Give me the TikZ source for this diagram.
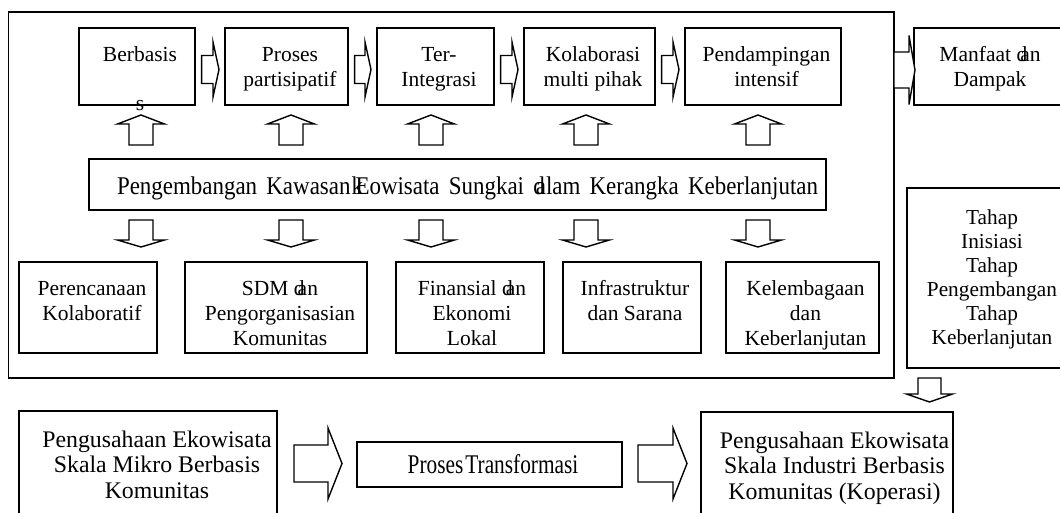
\documentclass[tikz,border=0pt]{standalone}
\usepackage{fontspec}
\setmainfont{Liberation Serif}
\newfontfamily\condfont[FakeStretch=0.79]{Liberation Serif}
\newfontfamily\midfont[FakeStretch=0.9]{Liberation Serif}
\usetikzlibrary{calc}
\newcommand\dn{d\kern-7pt an}
% right block arrow: start, tip, shaft half-width, head half-width, head length
\newcommand\arrR[5]{\draw[barrow] let \p1=#1, \p2=#2 in (\x1,\y1+#3) -- (\x2-#5,\y1+#3) -- (\x2-#5,\y1+#4) -- (\x2,\y1) -- (\x2-#5,\y1-#4) -- (\x2-#5,\y1-#3) -- (\x1,\y1-#3) -- cycle;}
% up block arrow: bottom, apex
\newcommand\arrU[5]{\draw[barrow] let \p1=#1, \p2=#2 in (\x1-#3,\y1) -- (\x1-#3,\y2-#5) -- (\x1-#4,\y2-#5) -- (\x1,\y2) -- (\x1+#4,\y2-#5) -- (\x1+#3,\y2-#5) -- (\x1+#3,\y1) -- cycle;}
% down block arrow: top, tip
\newcommand\arrD[5]{\draw[barrow] let \p1=#1, \p2=#2 in (\x1-#3,\y1) -- (\x1-#3,\y2+#5) -- (\x1-#4,\y2+#5) -- (\x1,\y2) -- (\x1+#4,\y2+#5) -- (\x1+#3,\y2+#5) -- (\x1+#3,\y1) -- cycle;}
\tikzset{
  box/.style={draw, line width=1.4pt, inner sep=0pt, outer sep=0pt},
  frame/.style={draw, line width=1.8pt, inner sep=0pt, outer sep=0pt},
  txt/.style={inner sep=0pt, align=center, anchor=north, font=\fontsize{21.5}{25}\selectfont},
  tahaptxt/.style={inner sep=0pt, align=center, anchor=north, font=\fontsize{21.3}{24}\selectfont},
  bigtxt/.style={inner sep=0pt, align=center, anchor=north, font=\fontsize{23.8}{25.5}\selectfont},
  barrow/.style={draw, line width=1.4pt, fill=white, line join=miter},
}
\begin{document}
\begin{tikzpicture}[x=1pt,y=-1pt]
\useasboundingbox (0,0) rectangle (1060,513);
\fill[white] (0,0) rectangle (1060,513);
\clip (0,0) rectangle (1060,513);

% outer frame
\node[frame, minimum width=885.5pt, minimum height=366pt] (frame) at (451.25,195) {};

% top row
\node[box, minimum width=116pt, minimum height=77pt] (t1) at (137,66.5) {};
\node[box, minimum width=123pt, minimum height=77pt] (t2) at (286.5,66.5) {};
\node[box, minimum width=117pt, minimum height=77pt] (t3) at (435.5,66.5) {};
\node[box, minimum width=131pt, minimum height=77pt] (t4) at (589.5,66.5) {};
\node[box, minimum width=156pt, minimum height=77pt] (t5) at (763,66.5) {};
\node[box, minimum width=148pt, minimum height=77pt] (t6) at (988,66.5) {};

\node[txt] (t1txt) at ([xshift=3pt,yshift=-15.5pt]t1.north) {\strut Berbasis\\[24pt]\strut s};
\node[txt] (t2txt) at ([xshift=3.5pt,yshift=-15.5pt]t2.north) {\strut Proses\\\strut partisipatif};
\node[txt] (t3txt) at ([xshift=3.5pt,yshift=-15.5pt]t3.north) {\strut Ter-\\\strut Integrasi};
\node[txt] (t4txt) at ([xshift=3.5pt,yshift=-15.5pt]t4.north) {\strut Kolaborasi\\\strut multi pihak};
\node[txt] (t5txt) at ([xshift=3.5pt,yshift=-15.5pt]t5.north) {\strut Pendampingan\\\strut intensif};
\node[txt] (t6txt) at ([xshift=2pt,yshift=-15.5pt]t6.north) {\strut Manfaat \dn\\\strut Dampak};

% middle box
\node[box, minimum width=737pt, minimum height=51pt] (mid) at (457.5,184.5) {};
\node[anchor=base, inner sep=0pt, font=\midfont\fontsize{25.5}{28}\selectfont] (midtxt) at ([xshift=10pt,yshift=-10.5pt]mid.center)
  {\makebox[701pt][s]{Pengembangan Kawasan\kern5pt E\kern-18pt k\kern6.5pt owisata Sungkai d\kern-9pt alam Kerangka Keberlanjutan}};

% framed bottom row
\node[box, minimum width=138pt, minimum height=91pt] (f1) at (88,307.5) {};
\node[box, minimum width=182pt, minimum height=91pt] (f2) at (276,307.5) {};
\node[box, minimum width=148pt, minimum height=91pt] (f3) at (470,307.5) {};
\node[box, minimum width=138pt, minimum height=91pt] (f4) at (632,307.5) {};
\node[box, minimum width=153pt, minimum height=91pt] (f5) at (802.5,307.5) {};

\node[txt] (f1txt) at ([xshift=4pt,yshift=-15.5pt]f1.north) {\strut Perencanaan\\\strut Kolaboratif};
\node[txt] (f2txt) at ([xshift=4pt,yshift=-15.5pt]f2.north) {\strut SDM \dn\\\strut Pengorganisasian\\\strut Komunitas};
\node[txt] (f3txt) at ([xshift=2pt,yshift=-15.5pt]f3.north) {\strut Finansial \dn\\\strut Ekonomi\\\strut Lokal};
\node[txt] (f4txt) at ([xshift=3pt,yshift=-15.5pt]f4.north) {\strut Infrastruktur\\\strut dan Sarana};
\node[txt] (f5txt) at ([xshift=3pt,yshift=-15.5pt]f5.north) {\strut Kelembagaan\\\strut dan\\\strut Keberlanjutan};

% Tahap box
\node[box, minimum width=170pt, minimum height=180pt] (tahap) at (992,278) {};
\node[tahaptxt] (tahaptxt) at ([yshift=-19.2pt]tahap.north) {\strut Tahap\\\strut Inisiasi\\\strut Tahap\\\strut Pengembangan\\\strut Tahap\\\strut Keberlanjutan};

% bottom boxes
\node[box, minimum width=258pt, minimum height=119pt] (bl) at (148,470.5) {};
\node[box, minimum width=265pt, minimum height=45pt] (proc) at (489.5,464.5) {};
\node[box, minimum width=252pt, minimum height=118pt] (br) at (827,471) {};

\node[bigtxt] (bltxt) at ([xshift=9pt,yshift=-18.2pt]bl.north) {\strut Pengusahaan Ekowisata\\\strut Skala Mikro Berbasis\\\strut Komunitas};
\node[anchor=base, inner sep=0pt, font=\condfont\fontsize{27}{30}\selectfont] (proctxt) at ([xshift=3.5pt,yshift=-8.5pt]proc.center) {Proses\kern2pt Transformasi};
\node[bigtxt] (brtxt) at ([xshift=7.5pt,yshift=-18.2pt]br.north) {\strut Pengusahaan Ekowisata\\\strut Skala Industri Berbasis\\\strut Komunitas (Koperasi)};

% arrow columns
\coordinate (k1) at (141,0);
\coordinate (k2) at (291,0);
\coordinate (k3) at (431,0);
\coordinate (k4) at (586,0);
\coordinate (k5) at (758,0);
\coordinate (kt) at (929.5,0);

% top row right arrows
\arrR{($(t1.east)+(6.6pt,-3pt)$)}{($(t2.west)+(-6pt,-3pt)$)}{14pt}{27.5pt}{6pt}
\arrR{($(t2.east)+(6.6pt,-3pt)$)}{($(t3.west)+(-6pt,-3pt)$)}{14pt}{27.5pt}{6pt}
\arrR{($(t3.east)+(6.6pt,-3pt)$)}{($(t4.west)+(-6pt,-3pt)$)}{14pt}{27.5pt}{6pt}
\arrR{($(t4.east)+(6.6pt,-3pt)$)}{($(t5.west)+(-6pt,-3pt)$)}{14pt}{27.5pt}{6pt}
\arrR{($(frame.east |- t6.west)+(0pt,-3.5pt)$)}{($(t6.west)+(1pt,-3.5pt)$)}{18pt}{34.5pt}{6pt}

% up arrows
\arrU{($(mid.north -| k1)+(0pt,14pt)$)}{($(t1.south -| k1)+(0pt,-10pt)$)}{12pt}{23.5pt}{9pt}
\arrU{($(mid.north -| k2)+(0pt,14pt)$)}{($(t2.south -| k2)+(0pt,-10pt)$)}{12pt}{23.5pt}{9pt}
\arrU{($(mid.north -| k3)+(0pt,14pt)$)}{($(t3.south -| k3)+(0pt,-10pt)$)}{12pt}{23.5pt}{9pt}
\arrU{($(mid.north -| k4)+(0pt,14pt)$)}{($(t4.south -| k4)+(0pt,-10pt)$)}{12pt}{23.5pt}{9pt}
\arrU{($(mid.north -| k5)+(0pt,14pt)$)}{($(t5.south -| k5)+(0pt,-10pt)$)}{12pt}{23.5pt}{9pt}

% down arrows
\arrD{($(mid.south -| k1)+(0pt,-10pt)$)}{($(f1.north -| k1)+(0pt,15pt)$)}{12pt}{23.5pt}{7pt}
\arrD{($(mid.south -| k2)+(0pt,-10pt)$)}{($(f2.north -| k2)+(0pt,15pt)$)}{12pt}{23.5pt}{7pt}
\arrD{($(mid.south -| k3)+(0pt,-10pt)$)}{($(f3.north -| k3)+(0pt,15pt)$)}{12pt}{23.5pt}{7pt}
\arrD{($(mid.south -| k4)+(0pt,-10pt)$)}{($(f4.north -| k4)+(0pt,15pt)$)}{12pt}{23.5pt}{7pt}
\arrD{($(mid.south -| k5)+(0pt,-10pt)$)}{($(f5.north -| k5)+(0pt,15pt)$)}{12pt}{23.5pt}{7pt}

% tahap down arrow
\arrD{($(tahap.south -| kt)+(0pt,-10pt)$)}{($(br.north -| kt)+(0pt,10pt)$)}{11.5pt}{23pt}{8pt}

% bottom arrows
\arrR{($(bl.east |- proc.center)+(17pt,1pt)$)}{($(proc.west)+(-15pt,1pt)$)}{18.5pt}{35.5pt}{14pt}
\arrR{($(proc.east)+(16pt,1pt)$)}{($(br.west |- proc.center)+(-14pt,1pt)$)}{18.5pt}{35.5pt}{14pt}
\end{tikzpicture}
\end{document}
